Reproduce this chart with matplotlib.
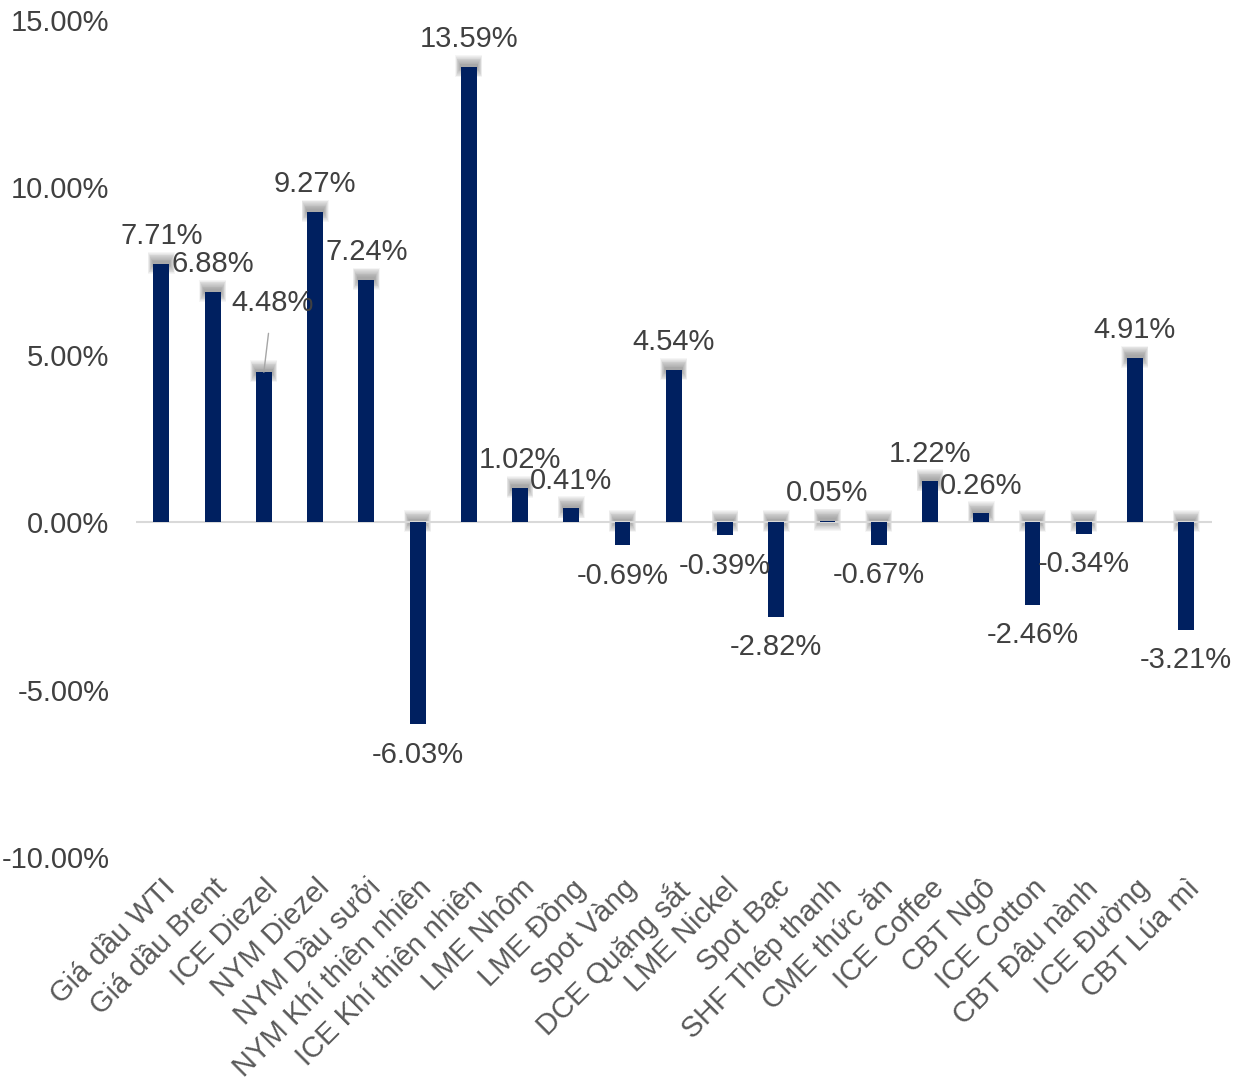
import matplotlib.pyplot as plt
from matplotlib.ticker import FuncFormatter

plt.rcParams['font.family'] = ['Liberation Sans', 'DejaVu Sans']

categories = ['Giá dầu WTI', 'Giá dầu Brent', 'ICE Diezel', 'NYM Diezel', 'NYM Dầu sưởi',
              'NYM Khí thiên nhiên', 'ICE Khí thiên nhiên', 'LME Nhôm', 'LME Đồng', 'Spot Vàng',
              'DCE Quặng sắt', 'LME Nickel', 'Spot Bạc', 'SHF Thép thanh', 'CME thức ăn',
              'ICE Coffee', 'CBT Ngô', 'ICE Cotton', 'CBT Đậu nành', 'ICE Đường', 'CBT Lúa mì']
changes = [7.71, 6.88, 4.48, 9.27, 7.24, -6.03, 13.59, 1.02, 0.41, -0.69,
           4.54, -0.39, -2.82, 0.05, -0.67, 1.22, 0.26, -2.46, -0.34, 4.91, -3.21]

bar_color = '#002060'
text_color = '#404040'
x = list(range(len(categories)))
width = 0.31

fig = plt.figure(figsize=(12.34, 10.92), dpi=100)
ax = fig.add_axes([0.110, 0.2152, 0.872, 0.7665])

# soft grey glow at the top edge of every bar
px_x = 1 / 51.24
px_y = 5 / 167.4
tops = [max(v, 0) for v in changes]
n_layers = 12
for k in range(n_layers):
    f = 1 - k / n_layers
    half_h = (1 + 10 * f) * px_y
    ext = (0.5 + 5 * f) * px_x
    ax.bar(x, [2 * half_h] * len(x), width=width + 2 * ext,
           bottom=[t + 1 * px_y - half_h for t in tops],
           color='#606060', alpha=0.06, linewidth=0, zorder=1)

ax.bar(x, changes, width=width, color=bar_color, zorder=3)
ax.axhline(0, color='#D9D9D9', linewidth=1.5, zorder=2)

for i, v in enumerate(changes):
    off = 20 if v >= 0 else -22
    if categories[i] == 'ICE Diezel':
        ax.annotate(f'{v:.2f}%', xy=(i, v), xytext=(6, 50), textcoords='offset points',
                    ha='center', va='center', fontsize=21, color=text_color,
                    arrowprops=dict(arrowstyle='-', color='#A6A6A6', lw=1,
                                    shrinkA=10, shrinkB=0))
    else:
        ax.annotate(f'{v:.2f}%', xy=(i, v), xytext=(0, off), textcoords='offset points',
                    ha='center', va='center', fontsize=21, color=text_color)

ax.set_xlim(-0.5, len(categories) - 0.5)
ax.set_ylim(-10, 15)
ax.set_yticks([-10, -5, 0, 5, 10, 15])
ax.yaxis.set_major_formatter(FuncFormatter(lambda v, p: f'{v:.2f}%'))
ax.set_xticks(x)
ax.set_xticklabels(categories, rotation=45, ha='right', rotation_mode='anchor')
ax.tick_params(axis='y', length=0, pad=19, labelsize=21, labelcolor=text_color)
ax.tick_params(axis='x', length=0, pad=12, labelsize=21, labelcolor='#595959')
for s in ax.spines.values():
    s.set_visible(False)

fig.savefig('out.png', dpi=100)
